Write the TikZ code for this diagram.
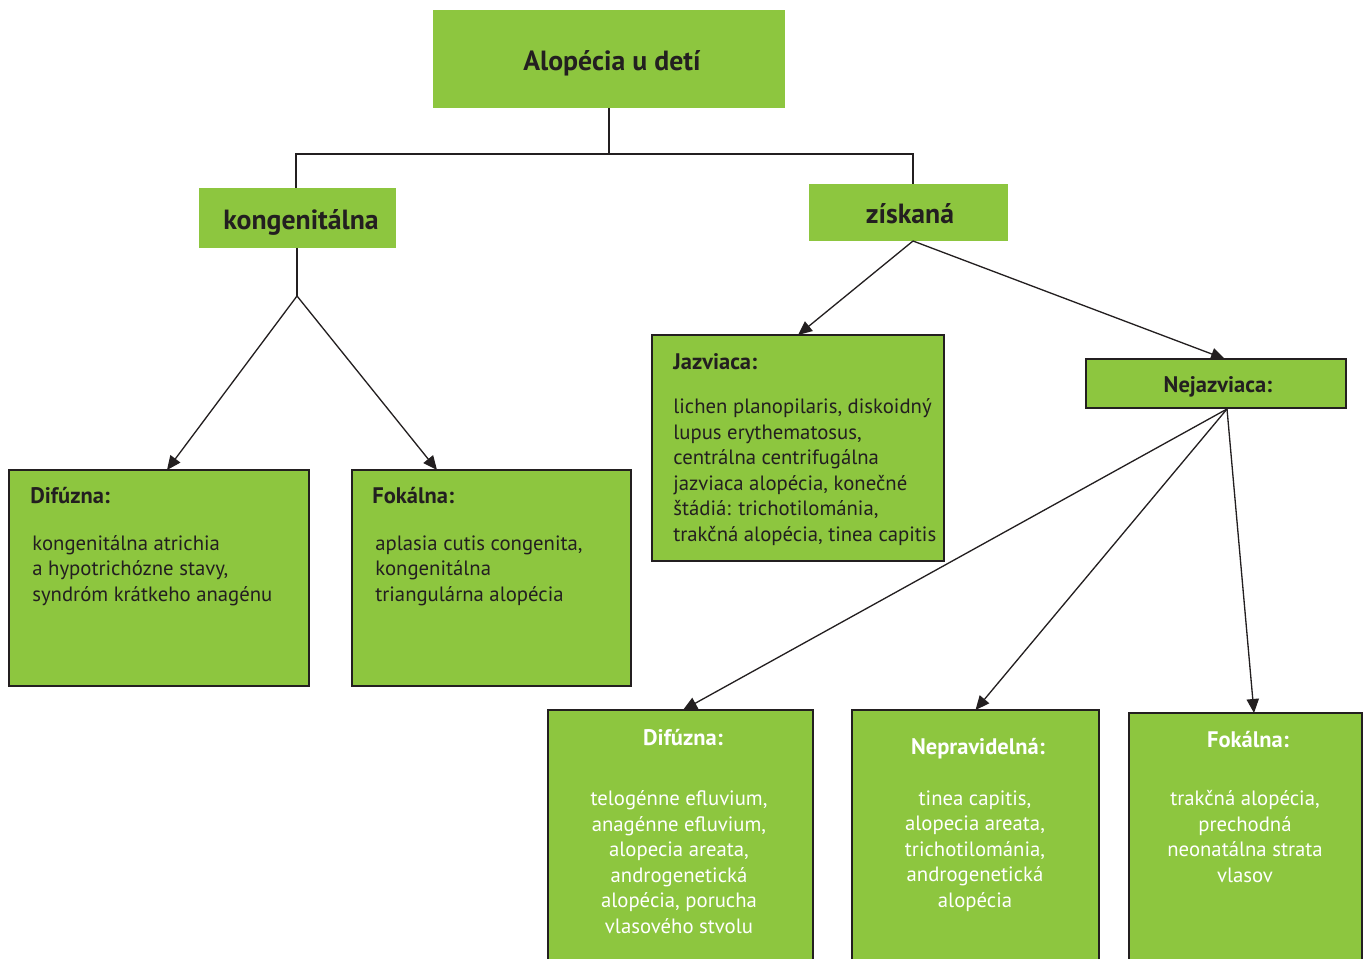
\documentclass[tikz,border=0pt]{standalone}
\usepackage{fontspec}
\setmainfont{PT Sans}
\usepackage{xcolor}
\usetikzlibrary{arrows.meta}

\definecolor{leaf}{HTML}{8DC63F}
\definecolor{ink}{HTML}{231F20}

\tikzset{
    box/.style={fill=leaf, draw=ink, line width=0.7pt, inner sep=0pt, outer sep=0pt},
    plainbox/.style={fill=leaf, inner sep=0pt, outer sep=0pt},
    bighead/.style={font=\bfseries\fontsize{15.8}{18}\selectfont, text=ink, inner sep=0pt},
    head/.style={font=\bfseries\fontsize{12.8}{15}\selectfont, text=ink, inner sep=0pt},
    body/.style={font=\fontsize{11.8}{14.5}\selectfont, text=ink, inner sep=0pt, align=left},
    arr/.style={-{Triangle[length=8pt,width=7pt]}, line width=0.75pt, color=ink},
    link/.style={line width=0.75pt, draw=ink},
}

\begin{document}
\begin{tikzpicture}[x=0.02cm, y=-0.02cm]
    \useasboundingbox (0,0) rectangle (1368,959);

    % boxes
    \node[plainbox, minimum width=7.04cm, minimum height=1.96cm] (top) at (609,59) {};
    \node[plainbox, minimum width=3.94cm, minimum height=1.2cm] (kong) at (297.5,218) {};
    \node[plainbox, minimum width=3.98cm, minimum height=1.14cm] (ziskana) at (908.5,212.5) {};
    \node[box, minimum width=5.84cm, minimum height=4.52cm] (jazv) at (798,448) {};
    \node[box, minimum width=5.2cm, minimum height=0.98cm] (nejazv) at (1216,383.5) {};
    \node[box, minimum width=6.0cm, minimum height=4.32cm] (difL) at (159,578) {};
    \node[box, minimum width=5.58cm, minimum height=4.32cm] (fokL) at (491.5,578) {};
    \node[box, minimum width=5.3cm, minimum height=5.2cm] (difB) at (680.5,840) {};
    \node[box, minimum width=4.94cm, minimum height=5.2cm] (neprav) at (975.5,840) {};
    \node[box, minimum width=4.66cm, minimum height=5.14cm] (fokR) at (1245.5,841.5) {};

    % texts (multi-line bodies sit on the baseline of their last line)
    \node[bighead, anchor=base] (topT) at (612,71) {Alopécia u detí};
    \node[bighead, anchor=base] (kongT) at (301,230) {kongenitálna};
    \node[bighead, anchor=base] (ziskanaT) at (910,224) {získaná};

    \node[head, anchor=base west] (jazvH) at (673,369) {Jazviaca:};
    \node[body, anchor=base west] (jazvB) at (673,541) {lichen planopilaris, diskoidný\\lupus erythematosus,\\centrálna centrifugálna\\jazviaca alopécia, konečné\\štádiá: trichotilománia,\\trakčná alopécia, tinea capitis};
    \node[head, anchor=base] (nejazvH) at (1218,392) {Nejazviaca:};

    \node[head, anchor=base west] (difLH) at (30,503) {Difúzna:};
    \node[body, anchor=base west] (difLB) at (32,601) {kongenitálna atrichia\\a hypotrichózne stavy,\\syndróm krátkeho anagénu};
    \node[head, anchor=base west] (fokLH) at (372,503) {Fokálna:};
    \node[body, anchor=base west] (fokLB) at (375,601) {aplasia cutis congenita,\\kongenitálna\\triangulárna alopécia};

    \node[head, text=white, anchor=base] (difBH) at (683,745) {Difúzna:};
    \node[body, text=white, align=center, anchor=base] (difBB) at (679,933) {telogénne efluvium,\\anagénne efluvium,\\alopecia areata,\\androgenetická\\alopécia, porucha\\vlasového stvolu};
    \node[head, text=white, anchor=base] (nepravH) at (978,754) {Nepravidelná:};
    \node[body, text=white, align=center, anchor=base] (nepravB) at (975,907) {tinea capitis,\\alopecia areata,\\trichotilománia,\\androgenetická\\alopécia};
    \node[head, text=white, anchor=base] (fokRH) at (1248,747) {Fokálna:};
    \node[body, text=white, align=center, anchor=base] (fokRB) at (1245,882) {trakčná alopécia,\\prechodná\\neonatálna strata\\vlasov};

    % forks
    \coordinate (hL) at (296,154);
    \coordinate (hR) at (913,154);
    \coordinate (kfork) at (297,296);
    \coordinate (nfork) at (1227,409);

    % edges
    \draw[link] (top.south) -- (top.south |- hL);
    \draw[link] (kong.north -| hL) -- (hL) -- (hR) -- (hR |- ziskana.north);
    \draw[link] (kong.south -| kfork) -- (kfork);
    \path [arr](kfork) edge ([xshift=0.16cm]difL.north);
    \path [arr](kfork) edge ([xshift=-1.09cm]fokL.north);
    \path [arr]([xshift=0.09cm]ziskana.south) edge (jazv.north);
    \path [arr]([xshift=0.09cm]ziskana.south) edge ([xshift=0.18cm]nejazv.north);
    \path [arr](nfork) edge ([xshift=0.05cm]difB.north);
    \path [arr](nfork) edge (neprav.north);
    \path [arr](nfork) edge ([xshift=0.17cm]fokR.north);
\end{tikzpicture}
\end{document}
